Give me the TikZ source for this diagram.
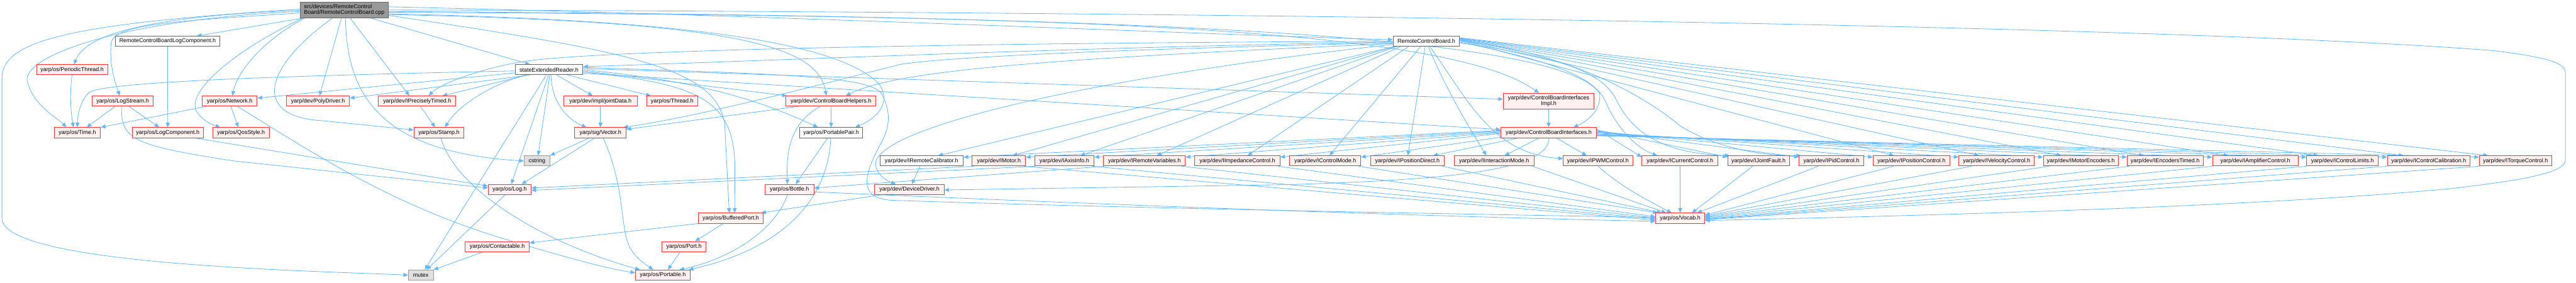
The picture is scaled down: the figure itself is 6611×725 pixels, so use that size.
\documentclass[tikz,border=0pt]{standalone}
\usepackage{fontspec}
\setmainfont{Liberation Sans}
\usetikzlibrary{arrows.meta,calc}
\pgfdeclarelayer{back}
\pgfdeclarelayer{bg}
\pgfsetlayers{back,bg,main}
\definecolor{eblue}{HTML}{63B8FF}
\definecolor{nred}{HTML}{FF3333}
\definecolor{nfill}{HTML}{FFF0F0}
\definecolor{dgray}{HTML}{666666}
\definecolor{mgray}{HTML}{999999}
\definecolor{lfill}{HTML}{E0E0E0}
\begin{document}
\begin{tikzpicture}[x=1pt,y=-1pt,
  every node/.style={font=\fontsize{14.5}{15.5}\selectfont, inner sep=0pt, minimum height=26pt, text=black},
  rn/.style={draw=nred, fill=nfill, line width=1.5pt},
  wn/.style={draw=dgray, fill=white, line width=1.5pt},
  gn/.style={draw=mgray, fill=lfill, line width=1.5pt},
  rootn/.style={draw=dgray, fill=mgray, line width=1.5pt, align=left, minimum height=40pt},
  inc/.style={draw=eblue, line width=1.3pt, -{Triangle[length=12pt,width=10pt]}},
]
\useasboundingbox (0,0) rectangle (6611,725);
\begin{pgfonlayer}{back}
\fill[white] (0,0) rectangle (6611,725);
\end{pgfonlayer}
% ---------------- nodes ----------------
\node[rootn, minimum width=227pt] (root) at (883.5,25.5) {src/devices/RemoteControl\\Board/RemoteControlBoard.cpp};
\node[wn, minimum width=268pt] (logcomp) at (430,106) {RemoteControlBoardLogComponent.h};
\node[wn, minimum width=171pt] (rcbh) at (3660.5,106) {RemoteControlBoard.h};
\node[rn, minimum width=182pt] (periodic) at (185,179) {yarp/os/PeriodicThread.h};
\node[wn, minimum width=174pt] (ser) at (1409,179) {stateExtendedReader.h};
\node[rn, minimum width=156pt] (logstream) at (315,259.5) {yarp/os/LogStream.h};
\node[rn, minimum width=141pt] (network) at (589.5,259.5) {yarp/os/Network.h};
\node[rn, minimum width=162pt] (polydriver) at (816,259.5) {yarp/dev/PolyDriver.h};
\node[rn, minimum width=199pt] (iprecise) at (1070.5,259.5) {yarp/dev/IPreciselyTimed.h};
\node[rn, minimum width=188pt] (jointdata) at (1541,259.5) {yarp/dev/impl/jointData.h};
\node[rn, minimum width=130pt] (thread) at (1725,259.5) {yarp/os/Thread.h};
\node[rn, minimum width=231pt] (cbhelpers) at (2132.5,259.5) {yarp/dev/ControlBoardHelpers.h};
\node[rn, minimum width=233pt, minimum height=40pt, align=center] (cbimpl) at (3974.5,259.5) {yarp/dev/ControlBoardInterfaces\\Impl.h};
\node[rn, minimum width=119pt] (time) at (198.5,340.5) {yarp/os/Time.h};
\node[rn, minimum width=183pt] (logcomponent) at (430.5,340.5) {yarp/os/LogComponent.h};
\node[rn, minimum width=145pt] (qos) at (618.5,340.5) {yarp/os/QosStyle.h};
\node[rn, minimum width=129pt] (stamp) at (1126.5,340.5) {yarp/os/Stamp.h};
\node[rn, minimum width=132pt] (vector) at (1541,340.5) {yarp/sig/Vector.h};
\node[wn, minimum width=162pt] (portablepair) at (2133,340.5) {yarp/os/PortablePair.h};
\node[rn, minimum width=245pt] (cbi) at (3974.5,340.5) {yarp/dev/ControlBoardInterfaces.h};
\node[gn, minimum width=66pt] (cstring) at (1378,413) {cstring};
\node[wn, minimum width=214pt] (iremotecal) at (2365,413) {yarp/dev/IRemoteCalibrator.h};
\node[rn, minimum width=137pt] (imotor) at (2563.5,413) {yarp/dev/IMotor.h};
\node[rn, minimum width=153pt] (iaxis) at (2731.5,413) {yarp/dev/IAxisInfo.h};
\node[rn, minimum width=210pt] (iremvar) at (2937,413) {yarp/dev/IRemoteVariables.h};
\node[rn, minimum width=219pt] (iimp) at (3175.5,413) {yarp/dev/IImpedanceControl.h};
\node[rn, minimum width=182pt] (icm) at (3401,413) {yarp/dev/IControlMode.h};
\node[rn, minimum width=190pt] (ipd) at (3612,413) {yarp/dev/IPositionDirect.h};
\node[rn, minimum width=205pt] (iim) at (3834.5,413) {yarp/dev/IInteractionMode.h};
\node[rn, minimum width=178pt] (ipwm) at (4101,413) {yarp/dev/IPWMControl.h};
\node[rn, minimum width=195pt] (icur) at (4311.5,413) {yarp/dev/ICurrentControl.h};
\node[rn, minimum width=158pt] (ijf) at (4513,413) {yarp/dev/IJointFault.h};
\node[rn, minimum width=166pt] (ipid) at (4700,413) {yarp/dev/IPidControl.h};
\node[rn, minimum width=197pt] (ipos) at (4905.5,413) {yarp/dev/IPositionControl.h};
\node[rn, minimum width=194pt] (ivel) at (5124,413) {yarp/dev/IVelocityControl.h};
\node[rn, minimum width=192pt] (ime) at (5340,413) {yarp/dev/IMotorEncoders.h};
\node[rn, minimum width=195pt] (iet) at (5556.5,413) {yarp/dev/IEncodersTimed.h};
\node[rn, minimum width=220pt] (iamp) at (5788,413) {yarp/dev/IAmplifierControl.h};
\node[rn, minimum width=183pt] (icl) at (6011.5,413) {yarp/dev/IControlLimits.h};
\node[rn, minimum width=212pt] (icc) at (6233,413) {yarp/dev/IControlCalibration.h};
\node[rn, minimum width=185pt] (itc) at (6455.5,413) {yarp/dev/ITorqueControl.h};
\node[rn, minimum width=110pt] (log) at (1308,486.5) {yarp/os/Log.h};
\node[rn, minimum width=126pt] (bottle) at (2026,486.5) {yarp/os/Bottle.h};
\node[rn, minimum width=178pt] (devdriver) at (2334,486.5) {yarp/dev/DeviceDriver.h};
\node[rn, minimum width=167pt] (buffered) at (1875.5,560) {yarp/os/BufferedPort.h};
\node[rn, minimum width=126pt] (vocab) at (4312,560) {yarp/os/Vocab.h};
\node[rn, minimum width=164pt] (contactable) at (1276,633) {yarp/os/Contactable.h};
\node[rn, minimum width=113pt] (port) at (1755.5,633) {yarp/os/Port.h};
\node[gn, minimum width=64pt] (mutex) at (1080,706) {mutex};
\node[rn, minimum width=140pt] (portable) at (1701,706) {yarp/os/Portable.h};
% ---------------- edges ----------------
\begin{pgfonlayer}{bg}
% root
\draw[inc] ($(root.west)+(0,4)$) .. controls (300,50) and (40,150) .. (72,215) .. controls (88,272) and (150,305) .. ($(time.north)+(-28,0)$);
\draw[inc] ($(root.west)+(0,1)$) .. controls (380,42) and (220,88) .. ($(periodic.north)+(5,0)$);
\draw[inc] ($(root.west)+(0,8)$) .. controls (420,55) and (295,65) .. (285,110) .. controls (280,180) and (300,222) .. ($(logstream.north)+(-8,0)$);
\draw[inc] ($(root.west)+(0,-2)$) .. controls (200,60) and (5,100) .. (5,200) -- (5,560) .. controls (5,680) and (800,695) .. (mutex.west);
\draw[inc] ($(root.south west)+(10,0)$) -- ($(logcomp.north east)+(-60,0)$);
\draw[inc] ($(root.south west)+(8,0)$) .. controls (620,120) and (480,228) .. (503,283) .. controls (518,310) and (545,320) .. ($(qos.north west)+(20,0)$);
\draw[inc] ($(root.south west)+(13,0)$) .. controls (680,100) and (610,180) .. ($(network.north)+(7,0)$);
\draw[inc] ($(root.south west)+(107,0)$) -- ($(polydriver.north)+(4,0)$);
\draw[inc] ($(root.south)+(15,0)$) -- ($(iprecise.north)+(-20,0)$);
\draw[inc] ($(root.south)+(3,0)$) .. controls (890,230) and (960,390) .. (cstring.west);
\draw[inc] ($(root.south)+(-30,0)$) .. controls (680,170) and (640,300) .. (830,310) -- ($(stamp.west)+(0,-7)$);
\draw[inc] ($(root.south east)+(-47,0)$) -- ($(ser.north)+(-49,0)$);
\draw[inc] ($(root.east)+(0,-8)$) .. controls (2000,40) and (3000,85) .. ($(rcbh.west)+(0,-4)$);
\draw[inc] ($(root.east)+(0,12)$) .. controls (1900,55) and (2100,120) .. ($(cbhelpers.north)+(-12,0)$);
\draw[inc] ($(root.east)+(0,10)$) .. controls (1700,50) and (2150,100) .. (2258,218) .. controls (2290,272) and (2240,308) .. ($(portablepair.north east)+(-20,0)$);
\draw[inc] ($(root.east)+(0,6)$) .. controls (2600,40) and (3700,60) .. ($(cbimpl.north)+(-25,0)$);
\draw[inc] ($(root.east)+(0,4)$) .. controls (3100,40) and (4000,100) .. (4105,238) .. controls (4112,288) and (4065,315) .. ($(cbi.north east)+(-60,0)$);
\draw[inc] (root.east) .. controls (3000,30) and (5500,60) .. (6400,130) .. controls (6560,150) and (6584,165) .. (6584,190) -- (6584,410) .. controls (6584,440) and (6500,460) .. (6290,484) .. controls (5800,530) and (5000,552) .. ($(vocab.east)+(0,6)$);
\draw[inc] ($(root.east)+(0,14)$) .. controls (1600,130) and (1840,170) .. (1860,320) -- ($(buffered.north)+(-4,0)$);
% stateExtendedReader
\draw[inc] ($(ser.west)+(0,3)$) .. controls (800,193) and (262,208) .. (228,238) .. controls (205,260) and (199,298) .. (time.north);
\draw[inc] ($(ser.west)+(0,8)$) -- ($(network.north east)+(0,6)$);
\draw[inc] ($(ser.south west)+(38,0)$) -- ($(polydriver.north east)+(0,6)$);
\draw[inc] ($(ser.south west)+(31,0)$) -- ($(iprecise.north east)+(-35,0)$);
\draw[inc] ($(ser.south west)+(26,0)$) .. controls (1250,220) and (1170,278) .. ($(stamp.north)+(16,0)$);
\draw[inc] ($(ser.south)+(-7,0)$) -- ($(mutex.north)+(10,0)$);
\draw[inc] ($(ser.south)+(-1,0)$) -- ($(log.north)+(4,0)$);
\draw[inc] ($(ser.south)+(2,0)$) -- ($(cstring.north)+(3,0)$);
\draw[inc] ($(ser.south)+(5,0)$) .. controls (1416,268) and (1460,308) .. ($(vector.north)+(-36,0)$);
\draw[inc] ($(ser.south)+(20,0)$) -- ($(jointdata.north)+(-20,0)$);
\draw[inc] ($(ser.south east)+(-40,0)$) -- ($(thread.north west)+(11,0)$);
\draw[inc] ($(ser.east)+(0,3)$) -- ($(cbhelpers.north west)+(3,0)$);
\draw[inc] (ser.east) .. controls (1800,208) and (1950,258) .. ($(portablepair.north west)+(48,0)$);
\draw[inc] ($(ser.east)+(0,6)$) .. controls (1800,215) and (1880,260) .. (1886,420) -- ($(buffered.north)+(10,0)$);
\draw[inc] ($(ser.east)+(0,-3)$) -- ($(cbimpl.west)+(0,-5)$);
\draw[inc] ($(ser.east)+(0,9)$) -- ($(cbi.west)+(0,-8)$);
\draw[inc] ($(ser.east)+(0,-6)$) .. controls (2000,190) and (2230,195) .. (2262,240) .. controls (2290,290) and (2280,330) .. (2265,360) .. controls (2215,450) and (2200,510) .. (2290,514) .. controls (2900,535) and (3900,552) .. ($(vocab.west)+(0,-2)$);
% RemoteControlBoard.h
\draw[inc] ($(rcbh.west)+(0,2)$) .. controls (2800,120) and (2000,155) .. ($(ser.east)+(0,-8)$);
\draw[inc] (rcbh.west) .. controls (2500,110) and (1500,128) .. (1330,160) .. controls (1200,184) and (1120,224) .. ($(iprecise.north)+(30,0)$);
\draw[inc] ($(rcbh.west)+(0,4)$) .. controls (2800,128) and (2420,148) .. (2312,165) .. controls (2100,218) and (1800,298) .. ($(vector.north east)+(-8,0)$);
\draw[inc] ($(rcbh.west)+(0,6)$) .. controls (2700,150) and (2300,180) .. ($(cbhelpers.north east)+(-78,0)$);
\draw[inc] ($(rcbh.west)+(0,8)$) .. controls (2800,200) and (2300,318) .. (2250,408) .. controls (2238,438) and (2270,462) .. ($(devdriver.north)+(-35,0)$);
\draw[inc] ($(rcbh.south west)+(2,0)$) -- ($(iremotecal.north east)+(-65,0)$);
\draw[inc] ($(rcbh.south west)+(5,0)$) -- ($(imotor.north east)+(-34,0)$);
\draw[inc] ($(rcbh.south west)+(10,0)$) -- ($(iaxis.north east)+(-36,0)$);
\draw[inc] ($(rcbh.south west)+(20,0)$) -- ($(iremvar.north east)+(-74,0)$);
\draw[inc] ($(rcbh.south west)+(40,0)$) -- ($(iimp.north east)+(-84,0)$);
\draw[inc] ($(rcbh.south)+(-15,0)$) -- ($(icm.north)+(11,0)$);
\draw[inc] ($(rcbh.south)+(-3,0)$) -- ($(ipd.north)+(1,0)$);
\draw[inc] ($(rcbh.south)+(5,0)$) .. controls (3720,250) and (3790,358) .. ($(iim.north)+(-20,0)$);
\draw[inc] ($(rcbh.south)+(9,0)$) .. controls (3770,260) and (3830,395) .. ($(ipwm.west)+(0,-6)$);
\draw[inc] ($(rcbh.east)+(0,2)$) .. controls (3950,150) and (4090,190) .. (4120,260) .. controls (4150,330) and (4200,380) .. ($(icur.north west)+(40,0)$);
\draw[inc] ($(rcbh.east)+(0,4)$) .. controls (3950,140) and (4110,170) .. (4150,260) .. controls (4200,360) and (4300,395) .. ($(ijf.north west)+(6,0)$);
\draw[inc] (rcbh.east) .. controls (4000,130) and (4200,230) .. (4312,323) .. controls (4420,390) and (4550,400) .. ($(ipid.north west)+(6,0)$);
\draw[inc] ($(rcbh.east)+(0,-2)$) -- ($(ipos.north)+(-45,0)$);
\draw[inc] ($(rcbh.east)+(0,-3)$) -- ($(ivel.north)+(-45,0)$);
\draw[inc] ($(rcbh.east)+(0,-4)$) -- ($(ime.north)+(-50,0)$);
\draw[inc] ($(rcbh.east)+(0,-5)$) -- ($(iet.north)+(-55,0)$);
\draw[inc] ($(rcbh.east)+(0,-6)$) -- ($(iamp.north)+(-69,0)$);
\draw[inc] ($(rcbh.east)+(0,-7)$) -- ($(icl.north)+(-62,0)$);
\draw[inc] ($(rcbh.east)+(0,-8)$) -- ($(icc.north)+(-65,0)$);
\draw[inc] ($(rcbh.east)+(0,-9)$) -- ($(itc.north)+(-70,0)$);
% ControlBoardInterfaces.h
\draw[inc] (cbimpl) -- (cbi);
\draw[inc] ($(cbi.west)+(0,-6)$) -- ($(iremotecal.north east)+(0,4)$);
\draw[inc] ($(cbi.west)+(0,-4)$) -- ($(imotor.north east)+(0,4)$);
\draw[inc] ($(cbi.west)+(0,-2)$) -- ($(iaxis.north east)+(0,4)$);
\draw[inc] (cbi.west) -- ($(iremvar.north east)+(0,4)$);
\draw[inc] ($(cbi.west)+(0,2)$) -- ($(iimp.north east)+(0,4)$);
\draw[inc] ($(cbi.south west)+(0,-2)$) -- ($(icm.north east)+(0,4)$);
\draw[inc] ($(cbi.south west)+(45,0)$) -- ($(ipd.north east)+(-30,0)$);
\draw[inc] ($(cbi.south)+(-25,0)$) -- ($(iim.north)+(27,0)$);
\draw[inc] ($(cbi.south)+(20,0)$) -- ($(ipwm.north)+(-29,0)$);
\draw[inc] ($(cbi.east)+(0,-9)$) -- ($(icur.north west)+(0,4)$);
\draw[inc] ($(cbi.east)+(0,-7)$) -- ($(ijf.north west)+(0,4)$);
\draw[inc] ($(cbi.east)+(0,-5)$) -- ($(ipid.north west)+(0,4)$);
\draw[inc] ($(cbi.east)+(0,-3)$) -- ($(ipos.north west)+(0,4)$);
\draw[inc] ($(cbi.east)+(0,-1)$) -- ($(ivel.north west)+(0,4)$);
\draw[inc] ($(cbi.east)+(0,1)$) -- ($(ime.north west)+(0,4)$);
\draw[inc] ($(cbi.east)+(0,3)$) -- ($(iet.north west)+(0,4)$);
\draw[inc] ($(cbi.east)+(0,5)$) -- ($(iamp.north west)+(0,4)$);
\draw[inc] ($(cbi.east)+(0,6)$) -- ($(icl.north west)+(0,4)$);
\draw[inc] ($(cbi.east)+(0,7)$) -- ($(icc.north west)+(0,4)$);
\draw[inc] ($(cbi.east)+(0,8)$) -- ($(itc.north west)+(0,4)$);
\draw[inc] ($(cbi.south)+(1,0)$) .. controls (3976,440) and (3700,462) .. (3300,474) -- ($(devdriver.east)+(0,1)$);
% interfaces -> Vocab.h
\draw[inc] ($(imotor.south east)+(-5,0)$) -- ($(vocab.west)+(0,5)$);
\draw[inc] ($(iaxis.south east)+(-5,0)$) -- ($(vocab.west)+(0,2)$);
\draw[inc] ($(iremvar.south east)+(-10,0)$) -- ($(vocab.west)+(0,-1)$);
\draw[inc] ($(iimp.south east)+(-5,0)$) -- ($(vocab.west)+(0,-4)$);
\draw[inc] ($(icm.south east)+(-5,0)$) -- ($(vocab.north west)+(6,0)$);
\draw[inc] ($(ipd.south east)+(-5,0)$) -- ($(vocab.north west)+(16,0)$);
\draw[inc] ($(iim.south east)+(-5,0)$) -- ($(vocab.north west)+(28,0)$);
\draw[inc] (ipwm.south) .. controls (4150,470) and (4200,500) .. ($(vocab.north west)+(42,0)$);
\draw[inc] (icur) -- (vocab);
\draw[inc] ($(ijf.south)+(-15,0)$) -- ($(vocab.north)+(30,0)$);
\draw[inc] ($(ipid.south west)+(50,0)$) -- ($(vocab.north east)+(-20,0)$);
\draw[inc] ($(ipos.south west)+(53,0)$) -- ($(vocab.east)+(0,-8)$);
\draw[inc] ($(ivel.south west)+(33,0)$) -- ($(vocab.east)+(0,-6)$);
\draw[inc] ($(ime.south west)+(15,0)$) -- ($(vocab.east)+(0,-4)$);
\draw[inc] ($(iet.south west)+(5,0)$) -- ($(vocab.east)+(0,-2)$);
\draw[inc] (iamp.south west) -- (vocab.east);
\draw[inc] (icl.south west) -- ($(vocab.east)+(0,2)$);
\draw[inc] (icc.south west) -- ($(vocab.east)+(0,3)$);
\draw[inc] (itc.south west) -- ($(vocab.east)+(0,4)$);
\draw[inc] ($(imotor.south west)+(5,0)$) -- ($(log.east)+(0,-4)$);
\draw[inc] ($(iaxis.south west)+(3,0)$) -- ($(log.east)+(0,2)$);
\draw[inc] ($(iremvar.south west)+(3,0)$) -- ($(bottle.east)+(0,-4)$);
% lower-level headers
\draw[inc] (logcomp) -- (logcomponent);
\draw[inc] (periodic.south) .. controls (178,240) and (182,290) .. ($(time.north)+(-10,0)$);
\draw[inc] ($(logstream.south)+(-20,0)$) -- ($(time.north east)+(-36,0)$);
\draw[inc] ($(logstream.south)+(16,0)$) -- ($(logcomponent.north)+(-22,0)$);
\draw[inc] ($(logstream.south)+(-3,0)$) .. controls (310,358) and (340,373) .. (600,413) -- ($(log.west)+(0,-4)$);
\draw[inc] ($(logcomponent.south east)+(-22,0)$) -- ($(log.west)+(0,-9)$);
\draw[inc] ($(network.south west)+(10,0)$) -- (time.north east);
\draw[inc] ($(network.south)+(3,0)$) -- ($(qos.north)+(-7,0)$);
\draw[inc] ($(network.south)+(20,0)$) .. controls (800,390) and (1000,525) .. (1300,615) .. controls (1450,660) and (1560,690) .. ($(portable.west)+(0,-6)$);
\draw[inc] ($(iprecise.south)+(9,0)$) -- ($(stamp.north)+(-10,0)$);
\draw[inc] ($(stamp.south)+(5,0)$) .. controls (1170,490) and (1400,625) .. ($(portable.north west)+(12,0)$);
\draw[inc] (jointdata) -- (vector);
\draw[inc] ($(vector.south west)+(38,0)$) -- (cstring.north east);
\draw[inc] ($(vector.south west)+(52,0)$) -- ($(log.north east)+(-25,0)$);
\draw[inc] ($(vector.south)+(7,0)$) .. controls (1600,470) and (1592,560) .. (1610,620) .. controls (1625,662) and (1660,680) .. ($(portable.north west)+(46,0)$);
\draw[inc] ($(log.south)+(-12,0)$) -- ($(mutex.north)+(15,0)$);
\draw[inc] ($(contactable.south west)+(46,0)$) -- (mutex.north east);
\draw[inc] ($(cbhelpers.south west)+(89,0)$) .. controls (2022,318) and (2018,400) .. ($(bottle.north)+(-5,0)$);
\draw[inc] (cbhelpers) -- (portablepair);
\draw[inc] ($(cbhelpers.south west)+(31,0)$) -- ($(vector.north east)+(0,5)$);
\draw[inc] ($(portablepair.south)+(-9,0)$) -- ($(bottle.north)+(16,0)$);
\draw[inc] ($(portablepair.south)+(-1,0)$) .. controls (2125,520) and (2000,640) .. ($(portable.north east)+(-4,0)$);
\draw[inc] ($(bottle.south)+(-5,0)$) .. controls (1985,600) and (1860,668) .. ($(portable.north east)+(-28,0)$);
\draw[inc] ($(bottle.east)+(0,6)$) .. controls (2600,515) and (3500,552) .. ($(vocab.west)+(0,8)$);
\draw[inc] ($(buffered.south west)+(65,0)$) -- ($(port.north east)+(-29,0)$);
\draw[inc] (buffered.south west) -- ($(contactable.north east)+(0,4)$);
\draw[inc] ($(port.south west)+(47,0)$) -- ($(portable.north)+(13,0)$);
\draw[inc] ($(devdriver.south west)+(15,0)$) -- ($(buffered.north east)+(-6,0)$);
\draw[inc] ($(iremotecal.south)+(-4,0)$) -- ($(devdriver.north)+(6,0)$);
\end{pgfonlayer}
\end{tikzpicture}
\end{document}
